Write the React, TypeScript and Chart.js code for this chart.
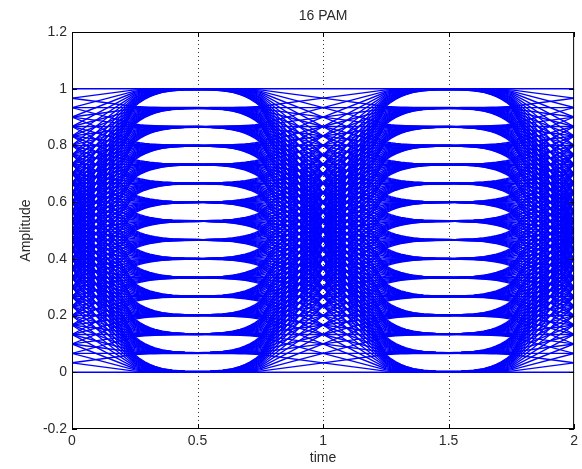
import React, { useEffect, useRef } from "react";
import { Chart, registerables } from "chart.js";

Chart.register(...registerables);

// 16-PAM amplitude levels
const LEVELS = [
  0, 0.0667, 0.1333, 0.2, 0.2667, 0.3333, 0.4, 0.4667,
  0.5333, 0.6, 0.6667, 0.7333, 0.8, 0.8667, 0.9333, 1,
];

// time offsets from a symbol boundary towards the symbol centre (half a period)
const HALF_TIMES = [0, 0.25, 0.27, 0.29, 0.31, 0.33, 0.36, 0.4, 0.45, 0.5];
// weight of the neighbouring symbol at those offsets (read from the eye shape)
const NEIGHBOUR_WEIGHT = [0.5, 0.0625, 0.048, 0.037, 0.028, 0.021, 0.013, 0.007, 0.004, 0.003];

const X_TICKS = [0, 0.5, 1, 1.5, 2];
const X_TICK_LABELS = ["0", "0.5", "1", "1.5", "2"];
const X_GRID = [0.5, 1, 1.5];
const Y_TICKS = [-0.2, 0, 0.2, 0.4, 0.6, 0.8, 1, 1.2];
const Y_TICK_LABELS = ["-0.2", "0", "0.2", "0.4", "0.6", "0.8", "1", "1.2"];

const TITLE = "16 PAM";
const X_TITLE = "time";
const Y_TITLE = "Amplitude";

const FONT = "'Liberation Sans', Arial, sans-serif";
const TEXT_COLOR = "#2a2a2a";
const TRACE_COLOR = "#0000ff";

// one trace spans two symbol periods; it depends on 4 consecutive symbols
function buildTrace(syms: number[]) {
  const pts: { x: number; y: number }[] = [];
  const n = HALF_TIMES.length;
  for (let u = 0; u < 2; u++) {
    const cur = LEVELS[syms[u + 1]];
    const before = LEVELS[syms[u]];
    const after = LEVELS[syms[u + 2]];
    for (let i = 0; i < n; i++) {
      if (u > 0 && i === 0) continue;
      pts.push({ x: u + HALF_TIMES[i], y: cur + (before - cur) * NEIGHBOUR_WEIGHT[i] });
    }
    for (let i = n - 2; i >= 0; i--) {
      pts.push({ x: u + 1 - HALF_TIMES[i], y: cur + (after - cur) * NEIGHBOUR_WEIGHT[i] });
    }
  }
  return pts;
}

// symbol sequences covering every pair of consecutive levels in each segment
function buildDatasets() {
  const m = LEVELS.length;
  const sets: any[] = [];
  for (let b = 0; b < m; b++) {
    for (let a = 0; a < m; a++) {
      const c = (a + b) % m;
      const d = (b + c) % m;
      sets.push({
        data: buildTrace([a, b, c, d]),
        borderColor: TRACE_COLOR,
        borderWidth: 1.4,
        pointRadius: 0,
        fill: false,
        tension: 0,
      });
    }
  }
  return sets;
}

const framePlugin = {
  id: "matlabFrame",
  beforeDatasetsDraw(chart: any) {
    const { ctx, chartArea } = chart;
    const xs = chart.scales.x;
    ctx.save();
    ctx.strokeStyle = "#333";
    ctx.lineWidth = 1;
    ctx.setLineDash([1, 3]);
    X_GRID.forEach((v) => {
      const px = Math.round(xs.getPixelForValue(v)) + 0.5;
      ctx.beginPath();
      ctx.moveTo(px, chartArea.top);
      ctx.lineTo(px, chartArea.bottom);
      ctx.stroke();
    });
    ctx.restore();
  },
  afterDatasetsDraw(chart: any) {
    const { ctx, chartArea } = chart;
    const xs = chart.scales.x;
    const ys = chart.scales.y;
    const { left, right, top, bottom } = chartArea;
    ctx.save();
    ctx.strokeStyle = "#000";
    ctx.lineWidth = 1;
    ctx.setLineDash([]);
    ctx.strokeRect(left + 0.5, top + 0.5, right - left - 1, bottom - top - 1);
    const tl = 5;
    ctx.beginPath();
    X_TICKS.forEach((v) => {
      const px = Math.round(xs.getPixelForValue(v)) + 0.5;
      ctx.moveTo(px, bottom);
      ctx.lineTo(px, bottom - tl);
      ctx.moveTo(px, top);
      ctx.lineTo(px, top + tl);
    });
    Y_TICKS.forEach((v) => {
      const py = Math.round(ys.getPixelForValue(v)) + 0.5;
      ctx.moveTo(left, py);
      ctx.lineTo(left + tl, py);
      ctx.moveTo(right, py);
      ctx.lineTo(right - tl, py);
    });
    ctx.stroke();
    ctx.restore();
  },
  afterDraw(chart: any) {
    const { ctx, chartArea } = chart;
    ctx.save();
    ctx.fillStyle = TEXT_COLOR;
    ctx.font = `14px ${FONT}`;
    ctx.textAlign = "center";
    ctx.textBaseline = "middle";
    ctx.fillText(TITLE, (chartArea.left + chartArea.right) / 2, 16);
    ctx.restore();
  },
};

export default function App() {
  const ref = useRef<HTMLCanvasElement | null>(null);

  useEffect(() => {
    if (!ref.current) return;
    const font = { family: FONT, size: 14 };
    const chart = new Chart(ref.current, {
      type: "line",
      data: { datasets: buildDatasets() },
      options: {
        responsive: false,
        animation: false,
        events: [],
        layout: { padding: { top: 32, right: 7, left: 0, bottom: 0 } },
        plugins: {
          legend: { display: false },
          tooltip: { enabled: false },
          title: { display: false },
        },
        scales: {
          x: {
            type: "linear",
            min: 0,
            max: 2,
            afterBuildTicks: (s: any) => {
              s.ticks = X_TICKS.map((v) => ({ value: v }));
            },
            afterFit: (s: any) => {
              s.height = 40;
            },
            ticks: {
              callback: (_v: any, i: number) => X_TICK_LABELS[i],
              font,
              color: TEXT_COLOR,
              padding: 4,
              maxRotation: 0,
              autoSkip: false,
            },
            grid: { display: false, drawTicks: false },
            border: { display: false },
            title: {
              display: true,
              text: X_TITLE,
              font,
              color: TEXT_COLOR,
              padding: { top: 0, bottom: 2 },
            },
          },
          y: {
            type: "linear",
            min: -0.2,
            max: 1.2,
            afterBuildTicks: (s: any) => {
              s.ticks = Y_TICKS.map((v) => ({ value: v }));
            },
            afterFit: (s: any) => {
              s.width = 72;
            },
            ticks: {
              callback: (_v: any, i: number) => Y_TICK_LABELS[i],
              font,
              color: TEXT_COLOR,
              padding: 5,
              autoSkip: false,
            },
            grid: { display: false, drawTicks: false },
            border: { display: false },
            title: {
              display: true,
              text: Y_TITLE,
              font,
              color: TEXT_COLOR,
              padding: { top: 18, bottom: 0 },
            },
          },
        },
      } as any,
      plugins: [framePlugin],
    });
    return () => chart.destroy();
  }, []);

  return (
    <div style={{ position: "fixed", left: 0, top: 0, width: 582, height: 469, background: "#fff" }}>
      <canvas ref={ref} width={582} height={469} style={{ display: "block" }} />
    </div>
  );
}
